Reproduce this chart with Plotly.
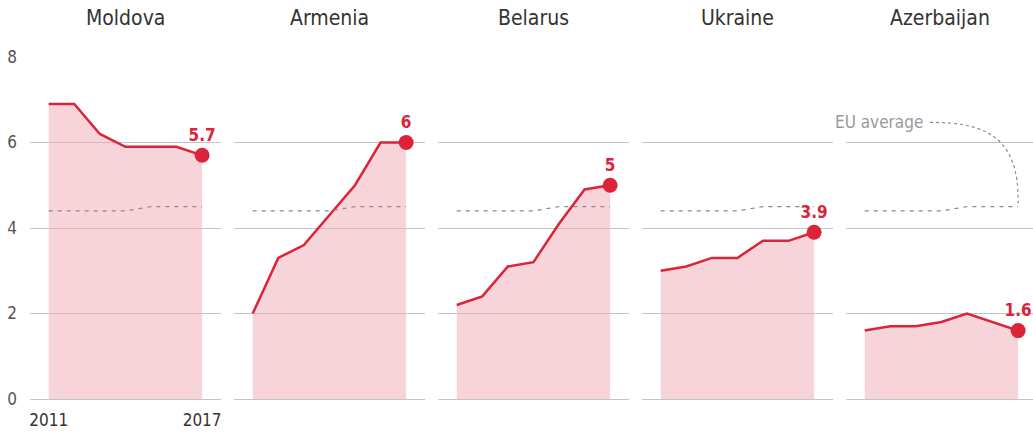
import plotly.graph_objects as go

years = [2011, 2012, 2013, 2014, 2015, 2016, 2017]
countries = ["Moldova", "Armenia", "Belarus", "Ukraine", "Azerbaijan"]
moldova = [6.9, 6.9, 6.2, 5.9, 5.9, 5.9, 5.7]
armenia = [2.0, 3.3, 3.6, 4.3, 5.0, 6.0, 6.0]
belarus = [2.2, 2.4, 3.1, 3.2, 4.1, 4.9, 5.0]
ukraine = [3.0, 3.1, 3.3, 3.3, 3.7, 3.7, 3.9]
azerbaijan = [1.6, 1.7, 1.7, 1.8, 2.0, 1.8, 1.6]
eu_average = [4.4, 4.4, 4.4, 4.4, 4.5, 4.5, 4.5]
end_labels = ["5.7", "6", "5", "3.9", "1.6"]
series = [moldova, armenia, belarus, ukraine, azerbaijan]
y_ticks = [0, 2, 4, 6, 8]
x_ticks = [2011, 2017]

RED = "#dc2339"
FILL = "rgba(240,176,185,0.55)"
GRID = "#c4c4c4"
TEXT = "#333333"
FONT = "Liberation Sans Narrow, DejaVu Sans Condensed, Roboto, sans-serif"

W, H = 1033, 435
L, R, T, B = 30, 0, 57, 36
plot_w = W - L - R
px_per_year = 25.57
panel_w = 190.7
step = 204

fig = go.Figure()
for i, (name, vals) in enumerate(zip(countries, series)):
    n = "" if i == 0 else str(i + 1)
    xa, ya = "x" + n, "y" + n
    x0 = step * i
    x1 = min(x0 + panel_w, plot_w)
    xmin = 2011 - 18.7 / px_per_year
    xmax = xmin + (x1 - x0) / px_per_year
    fig.add_trace(go.Scatter(x=years, y=vals, mode="lines", fill="tozeroy",
                             fillcolor=FILL, line=dict(color=RED, width=2.5),
                             xaxis=xa, yaxis=ya, hoverinfo="skip", showlegend=False))
    fig.add_trace(go.Scatter(x=years, y=eu_average, mode="lines",
                             line=dict(color="#8a8a8a", width=1.2, dash="4px,5px"),
                             xaxis=xa, yaxis=ya, hoverinfo="skip", showlegend=False))
    fig.add_trace(go.Scatter(x=[years[-1]], y=[vals[-1]], mode="markers+text",
                             marker=dict(color=RED, size=15),
                             text=["<b>" + end_labels[i] + "</b>"], textposition="top center",
                             textfont=dict(color=RED, size=17, family=FONT),
                             xaxis=xa, yaxis=ya, hoverinfo="skip", showlegend=False,
                             cliponaxis=False))
    fig.layout["xaxis" + n] = dict(domain=[x0 / plot_w, x1 / plot_w], range=[xmin, xmax],
                                   showgrid=False, zeroline=False, showline=False,
                                   tickvals=x_ticks if i == 0 else [],
                                   ticktext=[str(v) for v in x_ticks] if i == 0 else [],
                                   ticks="", ticklabelstandoff=9,
                                   tickfont=dict(size=17, color=TEXT, family=FONT),
                                   fixedrange=True, anchor=ya)
    fig.layout["yaxis" + n] = dict(domain=[0, 1], range=[0, 8], tickvals=y_ticks,
                                   showticklabels=(i == 0), showgrid=True, gridcolor=GRID,
                                   gridwidth=1, zeroline=True, zerolinecolor=GRID,
                                   zerolinewidth=1, showline=False, ticks="",
                                   ticklabelstandoff=12,
                                   tickfont=dict(size=17, color="#555555", family=FONT),
                                   fixedrange=True, anchor=xa)
    fig.add_annotation(text=name, x=0.5, xref=xa + " domain", y=1, yref="paper",
                       yshift=39, showarrow=False, yanchor="middle",
                       font=dict(size=21, color=TEXT, family=FONT))

# EU average label and dotted connector in the last panel
fig.add_annotation(text="EU average", x=2013.35, y=6.47, xref="x5", yref="y5",
                   xanchor="right", showarrow=False,
                   font=dict(size=17, color="#9a9a9a", family=FONT))
fig.add_shape(type="path", xref="x5", yref="y5",
              path="M 2013.55,6.47 C 2015.6,6.47 2017.05,6.2 2017.0,4.58",
              line=dict(color="#8a8a8a", width=1.2, dash="dot"))

fig.update_layout(width=W, height=H, margin=dict(l=L, r=R, t=T, b=B),
                  paper_bgcolor="white", plot_bgcolor="white",
                  font=dict(family=FONT, color=TEXT))
fig.write_html("out.html", config={"displayModeBar": False},
               post_script="document.body.style.margin='0px';")
